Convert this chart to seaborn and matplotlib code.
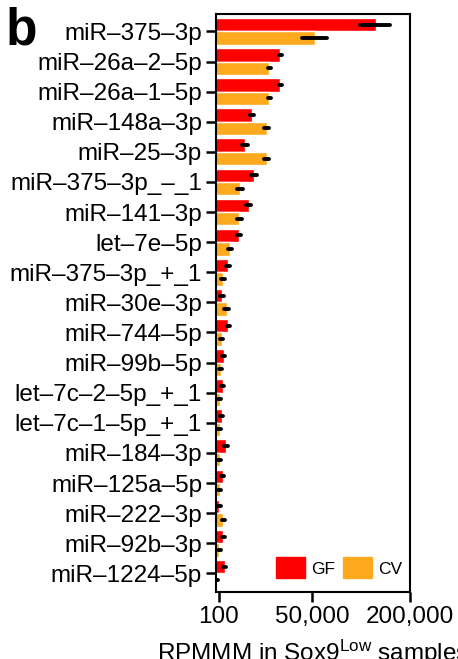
import numpy as np
import pandas as pd
import seaborn as sns
import matplotlib.pyplot as plt
from matplotlib.patches import Patch

mirnas = ['miR–375–3p', 'miR–26a–2–5p', 'miR–26a–1–5p', 'miR–148a–3p', 'miR–25–3p',
          'miR–375–3p_–_1', 'miR–141–3p', 'let–7e–5p', 'miR–375–3p_+_1', 'miR–30e–3p',
          'miR–744–5p', 'miR–99b–5p', 'let–7c–2–5p_+_1', 'let–7c–1–5p_+_1', 'miR–184–3p',
          'miR–125a–5p', 'miR–222–3p', 'miR–92b–3p', 'miR–1224–5p']
gf_mean = [136000, 22600, 22600, 7300, 4800, 8100, 6200, 3200, 980, 285,
           980, 460, 340, 285, 700, 340, 115, 390, 560]
gf_err = [25000, 1000, 1000, 900, 1000, 1200, 900, 550, 300, 130,
          200, 150, 120, 120, 200, 120, 80, 140, 180]
cv_mean = [53000, 15600, 15600, 14200, 14200, 3400, 3200, 1240, 390, 760,
           260, 190, 150, 150, 150, 150, 390, 115, 30]
cv_err = [13000, 800, 800, 1400, 1400, 700, 650, 300, 170, 260,
          110, 90, 80, 80, 80, 80, 140, 70, 40]
groups = ['GF', 'CV']
colors = {'GF': '#FF0000', 'CV': '#FDAA1F'}
xticks = [100, 50000, 200000]
xticklabels = ['100', '50,000', '200,000']

df = pd.concat([
    pd.DataFrame({'mirna': mirnas, 'group': 'GF', 'value': gf_mean, 'err': gf_err}),
    pd.DataFrame({'mirna': mirnas, 'group': 'CV', 'value': cv_mean, 'err': cv_err}),
])

sns.set_style('ticks')
plt.rcParams['font.family'] = ['Liberation Sans', 'DejaVu Sans']
plt.rcParams['mathtext.fontset'] = 'custom'
plt.rcParams['mathtext.rm'] = 'Liberation Sans'
plt.rcParams['mathtext.it'] = 'Liberation Sans:italic'
for k in ['text.color', 'axes.labelcolor', 'xtick.color', 'ytick.color']:
    plt.rcParams[k] = 'black'

fig = plt.figure(figsize=(4.58, 6.59), dpi=100)
ax = fig.add_axes([0.4716, 0.1017, 0.4236, 0.8771])

ax.set_xscale('function', functions=(lambda x: np.sqrt(np.clip(x, 0, None)), np.square))

sns.barplot(data=df, y='mirna', x='value', hue='group', hue_order=groups,
            order=mirnas, palette=colors, orient='h', width=0.89,
            errorbar=None, legend=False, saturation=1, ax=ax)

# error bars, one set per hue level
errs = {'GF': gf_err, 'CV': cv_err}
for grp, cont in zip(groups, ax.containers):
    ys = [p.get_y() + p.get_height() / 2 for p in cont]
    xs = [p.get_width() for p in cont]
    lo = [min(e, x - 1) for e, x in zip(errs[grp], xs)]
    eb = ax.errorbar(xs, ys, xerr=[lo, errs[grp]], fmt='none', ecolor='black',
                     elinewidth=2.8, capsize=0, zorder=5)
    eb[2][0].set_capstyle('round')

ax.set_xlim(10, 200000)
ax.set_ylim(18.62, -0.58)
ax.set_xticks(xticks)
ax.set_xticklabels(xticklabels)
ax.set_ylabel('')
ax.set_xlabel(r'RPMMM in Sox9$^{\mathrm{Low}}$ samples', fontsize=17.5, labelpad=7)
ax.tick_params(axis='both', labelsize=17.5, length=7, width=1.8, color='black', pad=3)
for s in ax.spines.values():
    s.set_visible(True)
    s.set_linewidth(1.5)
    s.set_color('black')

handles = [Patch(color=colors[g], label=g) for g in groups]
ax.legend(handles=handles, loc='lower right', ncol=2, frameon=False, fontsize=12.5,
          handlelength=1.67, handleheight=1.5, handletextpad=0.35, columnspacing=0.45,
          borderaxespad=0.05, bbox_to_anchor=(1.0, 0.01))

fig.text(0.012, 0.99, 'b', fontsize=37, fontweight='bold', va='top', ha='left')

plt.savefig('out.png', dpi=100)
